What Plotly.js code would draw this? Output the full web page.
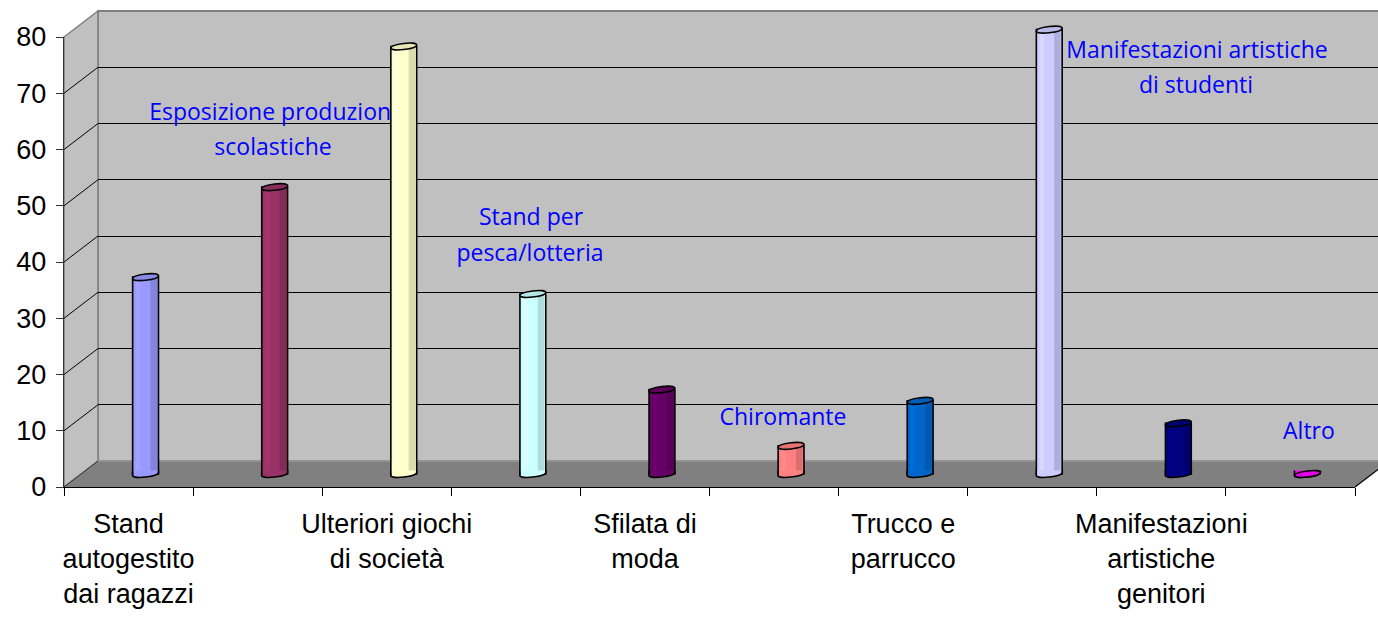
<!DOCTYPE html>
<html>
<head>
<meta charset="utf-8">
<script src="https://cdn.plot.ly/plotly-3.0.1.min.js"></script>
<style>html,body{margin:0;padding:0;background:#fff;}#chart{width:1378px;height:618px;}</style>
</head>
<body>
<div id="chart"></div>
<script>
// ---- data ----
const categories = [
  'Stand autogestito dai ragazzi',
  'Esposizione produzioni scolastiche',
  'Ulteriori giochi di società',
  'Stand per pesca/lotteria',
  'Sfilata di moda',
  'Chiromante',
  'Trucco e parrucco',
  'Manifestazioni artistiche di studenti',
  'Manifestazioni artistiche genitori',
  'Altro'
];
const values = [35, 51, 76, 32, 15, 5, 13, 79, 9, 0];
const colors = ['#9999FF','#993366','#FFFFCC','#CCFFFF','#660066','#FF8080','#0066CC','#CCCCFF','#000080','#FF00FF'];
const axisTickText = [
  'Stand<br>autogestito<br>dai ragazzi', '',
  'Ulteriori giochi<br>di società', '',
  'Sfilata di<br>moda', '',
  'Trucco e<br>parrucco', '',
  'Manifestazioni<br>artistiche<br>genitori', ''
];
const innerLabels = ['Esposizione produzioni', 'scolastiche', 'Stand per', 'pesca/lotteria',
                     'Chiromante', 'Manifestazioni artistiche', 'di studenti', 'Altro'];
const yTicks = [0, 10, 20, 30, 40, 50, 60, 70, 80];

// ---- geometry (pixels) ----
const W = 1378, H = 618;
const frontL = 64, frontR = 1355, front0 = 487, front80 = 37;
const depthX = 34, depthY = 26;
const nCat = categories.length;
const catPx = (frontR - frontL) / nCat;
const unitPx = (front0 - front80) / 80;
const fx = p => p / W;
const fy = p => 1 - p / H;
const P = (x, y) => fx(x) + ',' + fy(y);

function shade(hex, k) {
  const n = parseInt(hex.slice(1), 16);
  const r = (n >> 16) & 255, g = (n >> 8) & 255, b = n & 255;
  const f = c => Math.max(0, Math.min(255, Math.round(c * k)));
  return 'rgb(' + f(r) + ',' + f(g) + ',' + f(b) + ')';
}

const idx = categories.map((c, i) => i);

// back wall axes (x2/y2)
const wallL = frontL + depthX, wall0 = front0 - depthY, wall80 = front80 - depthY;
// bars axes (x3/y3), mid depth
const midL = frontL + depthX / 2, mid0 = front0 - depthY / 2;
const midTopPx = 8, midBotPx = front0 + 2;

const traces = [];
traces.push({x: [0], y: [0], type: 'scatter', mode: 'markers', marker: {opacity: 0}, xaxis: 'x', yaxis: 'y', hoverinfo: 'skip'});
// inner text labels on the back wall
const labelX = [0.856, 0.856, 2.854, 2.846, 4.806, 8.013, 8.005, 8.88];
const labelY = [61.6, 55.4, 43.0, 36.6, 7.5, 72.7, 66.5, 5.0];
traces.push({
  x: labelX, y: labelY, text: innerLabels, type: 'scatter', mode: 'text',
  textposition: 'middle center',
  textfont: {family: 'Open Sans', size: 23, color: '#0000ff'},
  xaxis: 'x2', yaxis: 'y2', hoverinfo: 'skip', cliponaxis: false
});
// cylinders
traces.push({
  x: idx, y: values, type: 'bar', xaxis: 'x3', yaxis: 'y3',
  width: 0.2, offset: -0.1,
  marker: {color: colors, line: {color: '#000', width: 1.6}},
  hoverinfo: 'skip'
});
traces.push({
  x: idx, y: values, type: 'bar', xaxis: 'x3', yaxis: 'y3',
  width: 0.05, offset: 0.038,
  marker: {color: colors.map(c => shade(c, 0.86)), line: {width: 0}},
  hoverinfo: 'skip'
});
traces.push({
  x: idx, y: values, type: 'bar', xaxis: 'x3', yaxis: 'y3',
  width: 0.035, offset: -0.075,
  marker: {color: colors.map(c => shade(c, 1.06)), line: {width: 0}},
  hoverinfo: 'skip'
});

const shapes = [];
// back wall
shapes.push({type: 'rect', xref: 'paper', yref: 'paper', layer: 'below',
  x0: fx(wallL), x1: fx(frontR + depthX + 2), y0: fy(wall0), y1: fy(wall80),
  fillcolor: '#c0c0c0', line: {color: '#808080', width: 2}});
// left wall
shapes.push({type: 'path', xref: 'paper', yref: 'paper', layer: 'below',
  path: 'M' + P(frontL, front80) + ' L' + P(wallL, wall80) + ' L' + P(wallL, wall0) + ' L' + P(frontL, front0) + ' Z',
  fillcolor: '#c0c0c0', line: {color: '#808080', width: 1.5}});
// floor
shapes.push({type: 'path', xref: 'paper', yref: 'paper', layer: 'below',
  path: 'M' + P(frontL, front0) + ' L' + P(wallL, wall0) + ' L' + P(frontR + depthX, wall0) + ' L' + P(frontR, front0) + ' Z',
  fillcolor: '#808080', line: {width: 0}});
shapes.push({type: 'line', xref: 'paper', yref: 'paper', layer: 'below',
  x0: fx(wallL), y0: fy(wall0), x1: fx(frontR + depthX), y1: fy(wall0), line: {color: '#9a9a9a', width: 1.5}});
shapes.push({type: 'line', xref: 'paper', yref: 'paper', layer: 'below',
  x0: fx(frontL), y0: fy(front0), x1: fx(wallL), y1: fy(wall0), line: {color: '#303030', width: 1}});
shapes.push({type: 'line', xref: 'paper', yref: 'paper', layer: 'below',
  x0: fx(frontR), y0: fy(front0), x1: fx(frontR + depthX), y1: fy(wall0), line: {color: '#000', width: 1.2}});
// left wall grid diagonals
yTicks.slice(1, -1).forEach(v => {
  shapes.push({type: 'line', xref: 'paper', yref: 'paper', layer: 'below',
    x0: fx(frontL), y0: fy(front0 - v * unitPx), x1: fx(wallL), y1: fy(wall0 - v * unitPx),
    line: {color: '#000', width: 1}});
});
// cylinder bottoms (lower half of the ellipse) and tops
const bottomFill = 'M -12.2,3.5 L -12.2,-1.5 C -12.2,-5.6 12.2,-2.6 12.2,1.5 L 12.2,3.5 Z';
const bottomEdge = 'M -13,3.5 L -13,-1.5 C -13,-5.6 13,-2.6 13,1.5 L 13,3.5';
const topEll = 'M -13,-1.5 C -13,2.6 13,5.6 13,1.5 C 13,-2.6 -13,-5.6 -13,-1.5 Z';
idx.forEach(i => {
  shapes.push({type: 'path', xref: 'x3', yref: 'y3', layer: 'above',
    xsizemode: 'pixel', xanchor: i, ysizemode: 'pixel', yanchor: 0, path: bottomFill,
    fillcolor: colors[i], line: {width: 0}});
  shapes.push({type: 'path', xref: 'x3', yref: 'y3', layer: 'above',
    xsizemode: 'pixel', xanchor: i, ysizemode: 'pixel', yanchor: 0, path: bottomEdge,
    fillcolor: 'rgba(0,0,0,0)', line: {color: '#000', width: 1.6}});
});
idx.forEach(i => {
  shapes.push({type: 'path', xref: 'x3', yref: 'y3', layer: 'above',
    xsizemode: 'pixel', xanchor: i, ysizemode: 'pixel', yanchor: values[i], path: topEll,
    fillcolor: shade(colors[i], 0.9), line: {color: '#000', width: 1.6}});
});

const tickFont = {family: 'Liberation Sans, Arial, sans-serif', size: 27, color: '#000'};

const layout = {
  width: W, height: H,
  margin: {l: 0, r: 0, t: 0, b: 0},
  paper_bgcolor: '#ffffff', plot_bgcolor: 'rgba(0,0,0,0)',
  showlegend: false, barmode: 'overlay',
  xaxis: {
    domain: [fx(frontL), fx(frontR)], range: [-0.5, nCat - 0.5], anchor: 'y',
    showline: true, linecolor: '#000', linewidth: 1.2, showgrid: false, zeroline: false,
    tickmode: 'array', tickvals: idx, ticktext: axisTickText, ticks: '',
    tickfont: tickFont, ticklabelstandoff: 12,
    minor: {ticks: 'outside', ticklen: 8, tickcolor: '#000', tickwidth: 1, tick0: -0.5, dtick: 1, showgrid: false}
  },
  yaxis: {
    domain: [fy(front0), fy(front80)], range: [0, 80], anchor: 'x',
    tickmode: 'array', tickvals: yTicks,
    showline: true, linecolor: '#333', linewidth: 1.2, showgrid: false, zeroline: false,
    ticks: 'outside', ticklen: 7, tickcolor: '#333', tickfont: tickFont, ticklabelstandoff: 4
  },
  xaxis2: {
    domain: [fx(wallL), 1], range: [-0.5, -0.5 + (W - wallL) / catPx], anchor: 'y2',
    showgrid: false, zeroline: false, showline: false, showticklabels: false, ticks: ''
  },
  yaxis2: {
    domain: [fy(wall0), fy(wall80)], range: [0, 80], anchor: 'x2',
    tickmode: 'array', tickvals: yTicks.slice(1, -1),
    showgrid: true, gridcolor: '#000', gridwidth: 1, zeroline: false, showline: false,
    showticklabels: false, ticks: ''
  },
  xaxis3: {
    domain: [fx(midL), 1], range: [-0.5, -0.5 + (W - midL) / catPx], anchor: 'y3', visible: false
  },
  yaxis3: {
    domain: [fy(midBotPx), fy(midTopPx)],
    range: [-(midBotPx - mid0) / unitPx, 80 + (mid0 - 80 * unitPx - midTopPx) / unitPx],
    anchor: 'x3', visible: false
  },
  shapes: shapes
};

Plotly.newPlot('chart', traces, layout, {staticPlot: true, displayModeBar: false});
</script>
</body>
</html>
